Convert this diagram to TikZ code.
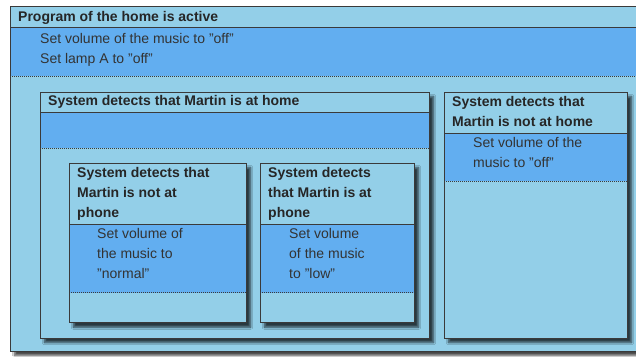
\documentclass[tikz,border=0pt]{standalone}
\usepackage{fontspec}
\setmainfont{Liberation Sans}
\usetikzlibrary{shadows.blur}

\definecolor{paneLight}{HTML}{93CFE8}
\definecolor{paneBlue}{HTML}{62AEF0}
\definecolor{edge}{HTML}{3A3A3A}
\definecolor{ink}{HTML}{262626}
\definecolor{bodyink}{HTML}{333333}

\tikzset{
  frame/.style={draw=edge, line width=0.9pt},
  boxshadow/.style={blur shadow={shadow xshift=4.5pt, shadow yshift=-4.5pt,
      shadow blur radius=2.2pt, shadow blur steps=6, shadow opacity=72}},
  rule/.style={draw=edge, line width=0.8pt},
  sep/.style={draw=edge, line width=1pt, dash pattern=on 1pt off 1pt},
  title/.style={anchor=base west, inner sep=0pt, text=ink,
      font=\fontsize{14}{20}\selectfont\bfseries},
  body/.style={anchor=base west, inner sep=0pt, text=bodyink,
      font=\fontsize{14}{20}\selectfont},
}

% \statepane{left}{top}{right}{bottom}{header line}{dotted line}
\newcommand\statepane[6]{%
  \path[boxshadow, fill=paneLight] (#1,#2) rectangle (#3,#4);
  \fill[paneBlue] (#1,#5) rectangle (#3,#6);
  \draw[rule] (#1,#5) -- (#3,#5);
  \draw[sep] (#1,#6) -- (#3,#6);
  \draw[frame] (#1,#2) rectangle (#3,#4);
}

\begin{document}
\begin{tikzpicture}[x=1pt, y=-1pt]
  \useasboundingbox (0,0) rectangle (636,356);
  \fill[white] (0,0) rectangle (636,356);
  \clip (0,0) rectangle (636,356);

  % outermost state: the home program
  \statepane{10}{6}{646}{351}{27.3}{76}
  \node[title] (prog) at (18,21) {Program of the home is active};
  \node[body] (prog1) at (40,43.5) {Set volume of the music to "off"};
  \node[body] (prog2) at (40,63.5) {Set lamp A to "off"};

  % Martin at home
  \statepane{40}{92}{429}{338}{112.3}{148.3}
  \node[title] (home) at (48,105.5) {System detects that Martin is at home};

  % Martin not at home
  \statepane{444}{92}{627}{338}{133}{181}
  \node[title] (away1) at (452,106.5) {System detects that};
  \node[title] (away2) at (452,126.5) {Martin is not at home};
  \node[body] (away3) at (473,147.5) {Set volume of the};
  \node[body] (away4) at (473,167.5) {music to "off"};

  % Martin not on the phone
  \statepane{69}{163}{246}{322.7}{224.3}{292.7}
  \node[title] (free1) at (77,177.7) {System detects that};
  \node[title] (free2) at (77,197.7) {Martin is not at};
  \node[title] (free3) at (77,217.7) {phone};
  \node[body] (free4) at (97,238.7) {Set volume of};
  \node[body] (free5) at (97,258.7) {the music to};
  \node[body] (free6) at (97,278.7) {"normal"};

  % Martin on the phone
  \statepane{260}{163}{414}{322.7}{224.3}{292.7}
  \node[title] (call1) at (268,177.7) {System detects};
  \node[title] (call2) at (268,197.7) {that Martin is at};
  \node[title] (call3) at (268,217.7) {phone};
  \node[body] (call4) at (289,238.7) {Set volume};
  \node[body] (call5) at (289,258.7) {of the music};
  \node[body] (call6) at (289,278.7) {to "low"};
\end{tikzpicture}
\end{document}
